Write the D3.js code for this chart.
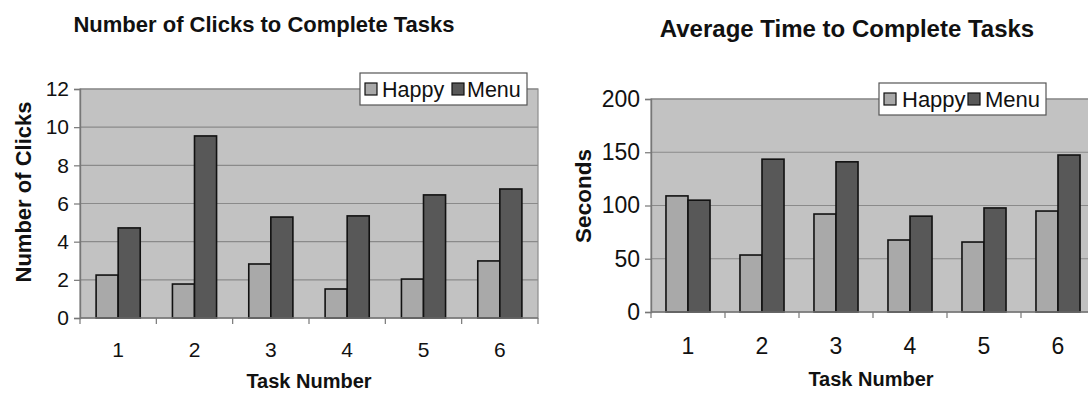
<!DOCTYPE html>
<html>
<head>
<meta charset="utf-8">
<script src="https://cdn.jsdelivr.net/npm/d3@7"></script>
<style>
  html, body { margin: 0; padding: 0; background: #fff; }
  svg { display: block; font-family: "Liberation Sans", Arial, sans-serif; }
</style>
</head>
<body>
<svg id="chart" width="1088" height="394"></svg>
<script>
// ---- Data ----
const tasks = ["1", "2", "3", "4", "5", "6"];
const seriesNames = ["Happy", "Menu"];
const clicksHappy = [2.25, 1.78, 2.83, 1.52, 2.04, 2.99];
const clicksMenu  = [4.72, 9.54, 5.29, 5.35, 6.45, 6.76];
const timeHappy = [109, 53.5, 92, 67.6, 65.7, 94.8];
const timeMenu  = [105, 143.5, 141, 90, 97.7, 147.4];
const clickTicks = [0, 2, 4, 6, 8, 10, 12];
const timeTicks = [0, 50, 100, 150, 200];

const colors = { Happy: "#a9a9a9", Menu: "#585858" };

const svg = d3.select("#chart");

function drawChart(opt) {
  const g = svg.append("g");
  const x = d3.scaleBand().domain(tasks).range([opt.left, opt.right]);
  const x1 = d3.scaleBand().domain(seriesNames).range([0, x.bandwidth()]).paddingInner(0).paddingOuter(opt.barPad);
  const y = d3.scaleLinear().domain(opt.domain).range([opt.bottom, opt.top]);

  // plot background
  g.append("rect")
    .attr("x", opt.left).attr("y", opt.top)
    .attr("width", opt.right - opt.left).attr("height", opt.bottom - opt.top)
    .attr("fill", "#c2c2c2").attr("stroke", "#8c8c8c").attr("stroke-width", 1.2);

  // gridlines
  g.selectAll(".grid").data(opt.ticks.filter(t => t !== opt.domain[0]))
    .join("line")
    .attr("x1", opt.left).attr("x2", opt.right)
    .attr("y1", d => y(d)).attr("y2", d => y(d))
    .attr("stroke", "#8a8a8a").attr("stroke-width", 1.2);

  // bars
  const data = tasks.map((t, i) => ({ task: t, vals: [
    { s: "Happy", v: opt.happy[i] }, { s: "Menu", v: opt.menu[i] }
  ]}));
  g.selectAll(".grp").data(data).join("g")
    .attr("transform", d => `translate(${x(d.task)},0)`)
    .selectAll("rect").data(d => d.vals).join("rect")
    .attr("x", d => x1(d.s)).attr("width", x1.bandwidth())
    .attr("y", d => y(d.v)).attr("height", d => y(opt.domain[0]) - y(d.v))
    .attr("fill", d => colors[d.s]).attr("stroke", "#111").attr("stroke-width", 1.6);

  // y axis
  const yAxis = d3.axisLeft(y).tickValues(opt.ticks).tickSize(6).tickPadding(5).tickFormat(d3.format("d"));
  const ya = g.append("g").attr("transform", `translate(${opt.left},0)`).call(yAxis);
  ya.select(".domain").attr("stroke", "#777").attr("stroke-width", 1.4);
  ya.selectAll(".tick line").attr("stroke", "#777").attr("stroke-width", 1.2);
  ya.selectAll(".tick text").attr("font-size", opt.tickFont).attr("fill", "#111")
    .attr("font-family", "'Liberation Sans', Arial, sans-serif");

  // x axis: ticks at category boundaries
  const xa = g.append("g");
  xa.append("line").attr("x1", opt.left).attr("x2", opt.right)
    .attr("y1", opt.bottom).attr("y2", opt.bottom)
    .attr("stroke", "#777").attr("stroke-width", 1.4);
  const bounds = tasks.map(t => x(t)).concat([x(tasks[tasks.length - 1]) + x.bandwidth()]);
  xa.selectAll(".bt").data(bounds).join("line")
    .attr("x1", d => d).attr("x2", d => d)
    .attr("y1", opt.bottom).attr("y2", opt.bottom + 6)
    .attr("stroke", "#777").attr("stroke-width", 1.2);
  xa.selectAll(".xl").data(tasks).join("text")
    .attr("x", d => x(d) + x.bandwidth() / 2)
    .attr("y", opt.xLabelY)
    .attr("text-anchor", "middle").attr("font-size", opt.tickFont).attr("fill", "#111")
    .text(d => d);

  // axis titles
  g.append("text")
    .attr("x", opt.xTitleX).attr("y", opt.xTitleY)
    .attr("text-anchor", "middle").attr("font-size", 20).attr("font-weight", "bold").attr("fill", "#111")
    .text("Task Number");
  g.append("text")
    .attr("transform", `translate(${opt.yTitleX},${opt.yTitleY}) rotate(-90)`)
    .attr("text-anchor", "middle").attr("font-size", opt.yTitleFont).attr("font-weight", "bold").attr("fill", "#111")
    .text(opt.yTitle);

  // chart title
  g.append("text")
    .attr("x", opt.titleX).attr("y", opt.titleY)
    .attr("text-anchor", "middle").attr("font-size", opt.titleFont).attr("font-weight", "bold").attr("fill", "#111")
    .text(opt.title);

  // legend
  const lg = g.append("g").attr("transform", `translate(${opt.legX},${opt.legY})`);
  lg.append("rect").attr("width", 167).attr("height", 32)
    .attr("fill", "#fff").attr("stroke", "#555").attr("stroke-width", 1.2);
  const items = [
    { s: "Happy", sx: 5, tx: opt.happyTx },
    { s: "Menu", sx: opt.menuSx, tx: opt.menuTx }
  ];
  items.forEach(it => {
    lg.append("rect").attr("x", it.sx).attr("y", 10).attr("width", 12).attr("height", 12)
      .attr("fill", colors[it.s]).attr("stroke", "#111").attr("stroke-width", 1.2);
    lg.append("text").attr("x", it.tx).attr("y", 24)
      .attr("font-size", opt.legFont).attr("fill", "#111").text(it.s);
  });
}

drawChart({
  left: 80, right: 538, top: 89, bottom: 318, barPad: 0.73,
  domain: [0, 12], ticks: clickTicks,
  happy: clicksHappy, menu: clicksMenu,
  tickFont: 21, xLabelY: 357, xTitleX: 309, xTitleY: 388,
  yTitle: "Number of Clicks", yTitleFont: 22, yTitleX: 31, yTitleY: 192,
  title: "Number of Clicks to Complete Tasks", titleFont: 22, titleX: 264, titleY: 32,
  legX: 360, legY: 73, legFont: 21.5, happyTx: 22, menuSx: 92, menuTx: 107
});

drawChart({
  left: 651, right: 1095, top: 99, bottom: 312, barPad: 0.68,
  domain: [0, 200], ticks: timeTicks,
  happy: timeHappy, menu: timeMenu,
  tickFont: 23, xLabelY: 354, xTitleX: 871, xTitleY: 386,
  yTitle: "Seconds", yTitleFont: 22.5, yTitleX: 591, yTitleY: 196,
  title: "Average Time to Complete Tasks", titleFont: 24, titleX: 847, titleY: 37,
  legX: 879, legY: 83, legFont: 22, happyTx: 23, menuSx: 89, menuTx: 106
});
</script>
</body>
</html>
